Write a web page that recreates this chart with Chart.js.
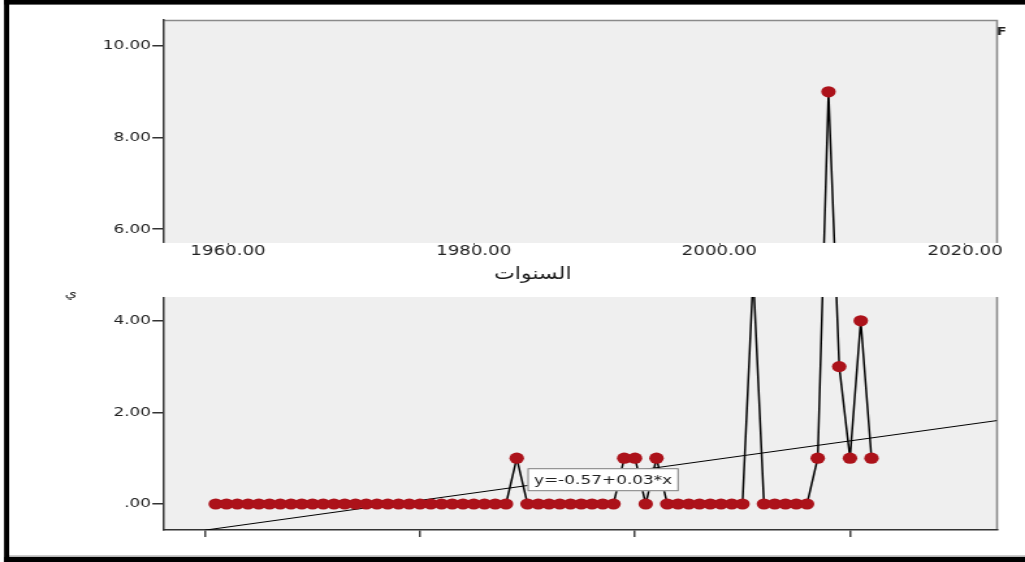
<!DOCTYPE html>
<html>
<head>
<meta charset="utf-8">
<script src="https://cdn.jsdelivr.net/npm/chart.js@4.4.1/dist/chart.umd.min.js"></script>
<style>
  html, body { margin: 0; padding: 0; background: #fff; overflow: hidden; }
  #chart { display: block; width: 1025px; height: 562px; }
</style>
</head>
<body>
<canvas id="chart" width="788" height="562" style="width:1025px;height:562px"></canvas>
<script>
// Case numbers (one per year of the series) and the yearly counts
const caseNumbers = [
  1, 2, 3, 4, 5, 6, 7, 8, 9, 10, 11, 12, 13, 14, 15, 16, 17, 18, 19, 20,
  21, 22, 23, 24, 25, 26, 27, 28, 29, 30, 31, 32, 33, 34, 35, 36, 37, 38, 39, 40,
  41, 42, 43, 44, 45, 46, 47, 48, 49, 50, 51, 52, 53, 54, 55, 56, 57, 58, 59, 60,
  61, 62
];
const counts = [
  0, 0, 0, 0, 0, 0, 0, 0, 0, 0, 0, 0, 0, 0, 0, 0, 0, 0, 0, 0,
  0, 0, 0, 0, 0, 0, 0, 0, 1, 0, 0, 0, 0, 0, 0, 0, 0, 0, 1, 1,
  0, 1, 0, 0, 0, 0, 0, 0, 0, 0, 5, 0, 0, 0, 0, 0, 1, 9, 3, 1,
  4, 1
];

// Axis ticks
const xTickValues = [0, 20, 40, 60];
const yTickValues = [0, 2, 4, 6, 8, 10];
const yTickLabels = ['.00', '2.00', '4.00', '6.00', '8.00', '10.00'];
const yearTickValues = [1960, 1980, 2000, 2020];
const yearTickLabels = ['1960.00', '1980.00', '2000.00', '2020.00'];
const yearAxisTitle = 'السنوات';

// Scale ranges
const X_MIN = -3.81, X_MAX = 73.68;
const Y_MIN = -0.568, Y_MAX = 10.568;
const YEAR_MIN = 1954.79, YEAR_MAX = 2022.6;

// Strip holding the year axis, in y-axis units
const STRIP_TOP = 5.70, STRIP_BOTTOM = 4.52;

// Least-squares fit of counts on case number
const n = caseNumbers.length;
const meanX = caseNumbers.reduce((a, b) => a + b, 0) / n;
const meanY = counts.reduce((a, b) => a + b, 0) / n;
let sxy = 0, sxx = 0;
for (let i = 0; i < n; i++) {
  sxy += (caseNumbers[i] - meanX) * (counts[i] - meanY);
  sxx += (caseNumbers[i] - meanX) ** 2;
}
const slope = sxy / sxx;
const intercept = meanY - slope * meanX;
const fitLabel = 'y=' + intercept.toFixed(2) + '+' + slope.toFixed(2) + '*x';

const points = caseNumbers.map((x, i) => ({ x: x, y: counts[i] }));
const fitLine = [
  { x: 0, y: intercept },
  { x: X_MAX, y: intercept + slope * X_MAX }
];

const FONT = "'DejaVu Sans', 'Liberation Sans', sans-serif";

const decorPlugin = {
  id: 'decor',
  beforeDraw(chart) {
    const { ctx, chartArea: a } = chart;
    ctx.save();
    ctx.fillStyle = '#efefef';
    ctx.fillRect(a.left, a.top, a.right - a.left, a.bottom - a.top);
    ctx.strokeStyle = '#8a8a8a';
    ctx.lineWidth = 1.6;
    ctx.beginPath();
    ctx.moveTo(a.left, a.top + 0.5);
    ctx.lineTo(a.right, a.top + 0.5);
    ctx.lineTo(a.right, a.bottom);
    ctx.stroke();
    ctx.restore();
  },
  afterDatasetsDraw(chart) {
    const { ctx, chartArea: a, scales } = chart;
    const top = scales.y.getPixelForValue(STRIP_TOP);
    const bottom = scales.y.getPixelForValue(STRIP_BOTTOM);
    ctx.save();
    ctx.fillStyle = '#ffffff';
    ctx.fillRect(a.left - 1.5, top, a.right - a.left + 4, bottom - top);
    ctx.restore();
  },
  afterDraw(chart) {
    const { ctx, scales } = chart;
    ctx.save();
    // year axis title
    ctx.fillStyle = '#1a1a1a';
    ctx.font = '17px ' + FONT;
    ctx.textAlign = 'center';
    ctx.textBaseline = 'middle';
    ctx.fillText(yearAxisTitle, scales.years.getPixelForValue(1984.8), scales.y.getPixelForValue(5.02));

    // fit equation box
    ctx.font = '13px ' + FONT;
    const tw = ctx.measureText(fitLabel).width;
    const bx = scales.x.getPixelForValue(30);
    const by = scales.y.getPixelForValue(0.53);
    const bw = tw + 10, bh = 23;
    ctx.fillStyle = '#ffffff';
    ctx.fillRect(bx, by - bh / 2, bw, bh);
    ctx.strokeStyle = '#7a7a7a';
    ctx.lineWidth = 1;
    ctx.strokeRect(bx + 0.5, by - bh / 2 + 0.5, bw - 1, bh - 1);
    ctx.fillStyle = '#222';
    ctx.textAlign = 'left';
    ctx.fillText(fitLabel, bx + 5, by + 1);

    // stray glyphs at the edges
    ctx.font = '12px ' + FONT;
    ctx.textAlign = 'center';
    ctx.fillText('ي', 54.5, 294);
    ctx.font = 'bold 11px ' + FONT;
    ctx.fillText('F', 770, 32);

    // outer frame
    ctx.fillStyle = '#000';
    ctx.fillRect(3.1, 0, 800, 4.6);
    ctx.fillRect(3.1, 0, 3.9, 562);
    ctx.fillRect(3.1, 557, 800, 5);
    ctx.fillStyle = '#9a9a9a';
    ctx.fillRect(7, 555.5, 800, 1.2);
    ctx.restore();
  }
};

new Chart(document.getElementById('chart').getContext('2d'), {
  type: 'line',
  data: {
    datasets: [
      {
        label: 'counts',
        data: points,
        borderColor: '#000',
        borderWidth: 1.5,
        tension: 0,
        pointRadius: 5.6,
        pointHoverRadius: 5.6,
        pointBackgroundColor: 'rgb(172,18,26)',
        pointBorderWidth: 0,
        order: 1
      },
      {
        label: 'fit',
        data: fitLine,
        borderColor: '#000',
        borderWidth: 1,
        pointRadius: 0,
        order: 2
      }
    ]
  },
  options: {
    responsive: false,
    animation: false,
    devicePixelRatio: 1,
    events: [],
    layout: { padding: { left: 0, right: 21.5, top: 20, bottom: 0 } },
    plugins: { legend: { display: false }, tooltip: { enabled: false } },
    scales: {
      x: {
        type: 'linear',
        position: 'bottom',
        min: X_MIN,
        max: X_MAX,
        afterBuildTicks: s => { s.ticks = xTickValues.map(v => ({ value: v })); },
        afterFit: s => { s.height = 32; },
        ticks: { display: false },
        grid: { drawOnChartArea: false, drawTicks: true, tickLength: 7, color: '#444', lineWidth: 1.5 },
        border: { display: true, color: '#333', width: 1.5 }
      },
      y: {
        type: 'linear',
        position: 'left',
        min: Y_MIN,
        max: Y_MAX,
        afterBuildTicks: s => { s.ticks = yTickValues.map(v => ({ value: v })); },
        afterFit: s => { s.width = 126.1; },
        ticks: {
          callback: v => yTickLabels[yTickValues.indexOf(v)],
          font: { family: FONT, size: 13 },
          color: '#222',
          padding: 1
        },
        grid: { drawOnChartArea: false, drawTicks: true, tickLength: 9, color: '#333', lineWidth: 1.5 },
        border: { display: true, color: '#333', width: 1.5 }
      },
      years: {
        type: 'linear',
        axis: 'x',
        position: { y: STRIP_TOP },
        min: YEAR_MIN,
        max: YEAR_MAX,
        afterBuildTicks: s => { s.ticks = yearTickValues.map(v => ({ value: v })); },
        ticks: {
          callback: v => yearTickLabels[yearTickValues.indexOf(v)],
          font: { family: FONT, size: 14 },
          color: '#222',
          padding: -2,
          z: 3
        },
        grid: { drawOnChartArea: false, drawTicks: true, tickLength: 2, color: '#666', lineWidth: 1, z: 3 },
        border: { display: false, z: 3 }
      }
    }
  },
  plugins: [decorPlugin]
});
</script>
</body>
</html>
